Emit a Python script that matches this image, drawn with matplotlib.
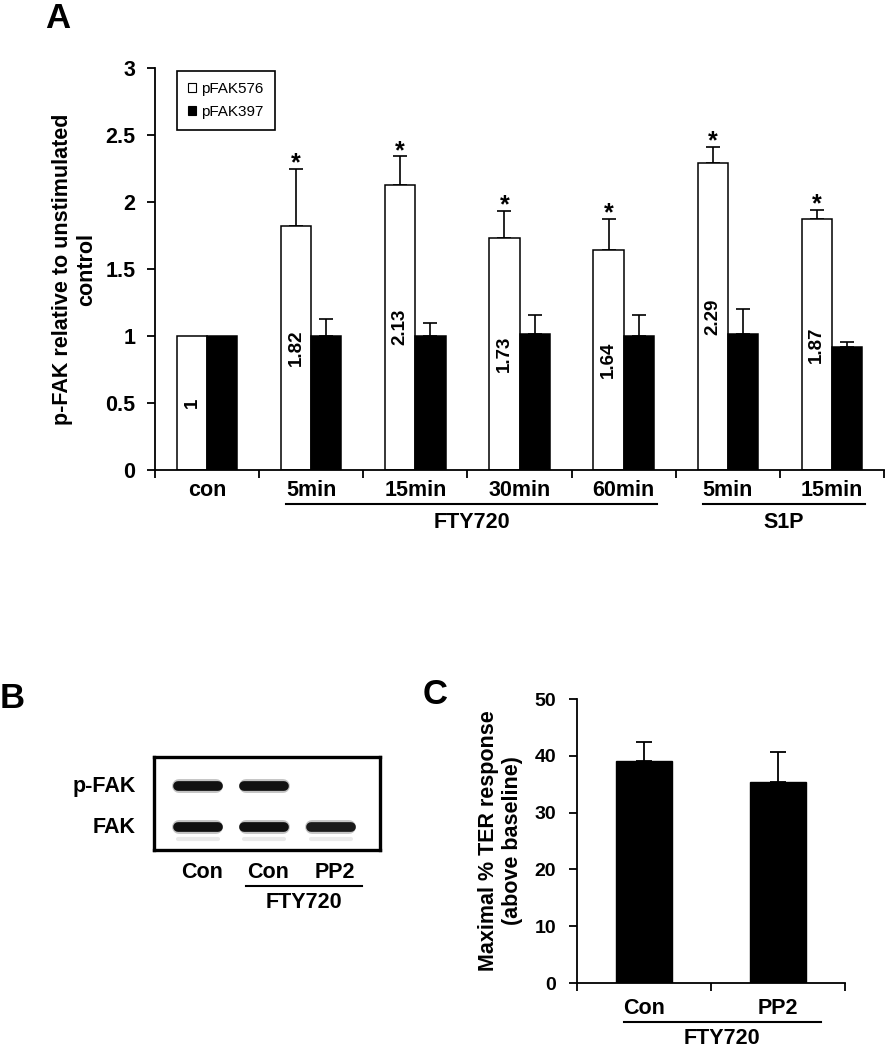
# p-FAK figure: panel A bars, panel B blot, panel C TER bars
import numpy as np
import matplotlib
matplotlib.use("Agg")
import matplotlib.pyplot as plt
import matplotlib.transforms as mtransforms
from matplotlib.patches import Patch

# ==========================================================
# DATA
# ==========================================================

# panel A
a_categories = ["con", "5min", "15min", "30min", "60min", "5min", "15min"]
a_groups = [("FTY720", 1, 4), ("S1P", 5, 6)]
pfak576 = [1.0, 1.82, 2.13, 1.73, 1.64, 2.29, 1.87]
pfak576_err = [0.0, 0.43, 0.21, 0.20, 0.23, 0.12, 0.07]
pfak397 = [1.0, 1.0, 1.0, 1.015, 1.0, 1.015, 0.92]
pfak397_err = [0.0, 0.13, 0.10, 0.145, 0.16, 0.19, 0.035]
significant = [False, True, True, True, True, True, True]
a_yticks = [0, 0.5, 1, 1.5, 2, 2.5, 3]

# panel B (band intensity per lane)
b_lanes = ["Con", "Con", "PP2"]
b_rows = ["p-FAK", "FAK"]
pfak_band = [1.0, 1.0, 0.0]
fak_band = [1.0, 1.0, 0.95]
b_group = ("FTY720", 1, 2)

# panel C
c_categories = ["Con", "PP2"]
ter_response = [39.0, 35.3]
ter_err = [3.5, 5.4]
c_group = ("FTY720", 0, 1)
c_yticks = [0, 10, 20, 30, 40, 50]

# ==========================================================
# FIGURE
# ==========================================================

plt.rcParams["font.family"] = ["Liberation Sans", "DejaVu Sans"]
plt.rcParams["font.weight"] = "bold"

W, H = 885, 1050
fig = plt.figure(figsize=(W / 100, H / 100), dpi=100)


def rect(x0, y0, x1, y1):
    # pixel box (top-left origin) -> figure fraction rect
    return [x0 / W, 1 - y1 / H, (x1 - x0) / W, (y1 - y0) / H]


def fy(py):
    return 1 - py / H


def style_axes(ax, lw=1.3):
    ax.spines["top"].set_visible(False)
    ax.spines["right"].set_visible(False)
    ax.spines["left"].set_linewidth(lw)
    ax.spines["bottom"].set_linewidth(lw)


# ==========================================================
# PANEL A
# ==========================================================

ax = fig.add_axes(rect(155, 68, 884, 470))
style_axes(ax)

x = np.arange(len(a_categories))
bw = 0.29

ax.bar(x - bw / 2, pfak576, bw, color="white", edgecolor="black",
       linewidth=1.1, zorder=2)
ax.bar(x + bw / 2, pfak397, bw, color="black", edgecolor="black",
       linewidth=1.1, zorder=2)

for i in range(len(x)):
    if pfak576_err[i] > 0:
        ax.errorbar(x[i] - bw / 2, pfak576[i], yerr=[[0], [pfak576_err[i]]],
                    fmt="none", ecolor="black", elinewidth=1.2,
                    capsize=5, capthick=1.2, zorder=1)
    if pfak397_err[i] > 0:
        ax.errorbar(x[i] + bw / 2, pfak397[i], yerr=[[0], [pfak397_err[i]]],
                    fmt="none", ecolor="black", elinewidth=1.2,
                    capsize=5, capthick=1.2, zorder=1)
    if significant[i]:
        ax.annotate("*", (x[i] - bw / 2, pfak576[i] + pfak576_err[i]),
                    xytext=(0, -1), textcoords="offset points",
                    ha="center", va="baseline", fontsize=18)
    # value written inside white bar
    ax.text(x[i] - bw / 2, pfak576[i] / 2, "%g" % pfak576[i],
            rotation=90, ha="center", va="center", fontsize=13.5, zorder=3)

ax.set_xlim(-0.5, len(x) - 0.5)
ax.set_ylim(0, 3)
ax.set_yticks(a_yticks)
ax.set_yticklabels(["%g" % t for t in a_yticks], fontsize=15.5,
                   fontweight="bold")
ax.set_xticks(np.arange(len(x) + 1) - 0.5)
ax.set_xticklabels([])
ax.tick_params(axis="both", direction="out", length=6, width=1.3)
ax.tick_params(axis="y", pad=8)

ax.set_ylabel("p-FAK relative to unstimulated\ncontrol", fontsize=15.5,
              fontweight="bold", labelpad=6)

tr_a = mtransforms.blended_transform_factory(ax.transData, fig.transFigure)
for i, lab in enumerate(a_categories):
    ax.text(x[i], fy(490), lab, transform=tr_a, ha="center", va="center",
            fontsize=15.5)
for name, i0, i1 in a_groups:
    x0, x1 = i0 - 0.24, i1 + 0.32
    ax.plot([x0, x1], [fy(504), fy(504)], color="black", lw=1.5,
            transform=tr_a, clip_on=False)
    ax.text((x0 + x1) / 2, fy(522), name, transform=tr_a, ha="center",
            va="center", fontsize=15.5)

handles = [Patch(facecolor="white", edgecolor="black", linewidth=0.8),
           Patch(facecolor="black", edgecolor="black", linewidth=0.8)]
leg = ax.legend(handles, ["pFAK576", "pFAK397"], loc="upper left",
                bbox_to_anchor=(177 / W, fy(71)),
                bbox_transform=fig.transFigure, borderaxespad=0,
                prop={"size": 11, "weight": "normal"}, fancybox=False,
                framealpha=1, edgecolor="black", handlelength=0.55,
                handleheight=0.55, handletextpad=0.35, labelspacing=0.6,
                borderpad=0.7)
leg.get_frame().set_linewidth(1.2)

fig.text(45 / W, fy(2), "A", fontsize=25, ha="left", va="top")

# ==========================================================
# PANEL B (western blot)
# ==========================================================

axb = fig.add_axes(rect(154, 757, 380, 850))
axb.set_xlim(-0.66, 2.74)
axb.set_ylim(-0.56, 1.71)
axb.set_xticks([])
axb.set_yticks([])
for s in axb.spines.values():
    s.set_linewidth(2.4)

rows_y = [1, 0]
for row_y, band in zip(rows_y, [pfak_band, fak_band]):
    for i, inten in enumerate(band):
        if inten <= 0:
            continue
        axb.plot([i - 0.28, i + 0.28], [row_y, row_y], color="#111111",
                 lw=10, alpha=0.25 * inten, solid_capstyle="round")
        axb.plot([i - 0.3, i + 0.3], [row_y, row_y], color="#111111",
                 lw=7, alpha=inten, solid_capstyle="round")
        if row_y == 0:
            # faint shadow band below FAK
            axb.plot([i - 0.3, i + 0.3], [row_y - 0.3, row_y - 0.3],
                     color="#999999", lw=3, alpha=0.2 * inten,
                     solid_capstyle="round")

for row_y, lab in zip(rows_y, b_rows):
    axb.text(-0.93, row_y, lab, ha="right", va="center", fontsize=15.5,
             clip_on=False)

tr_b = mtransforms.blended_transform_factory(axb.transData, fig.transFigure)
for i, lab in enumerate(b_lanes):
    axb.text(i + 0.06, fy(872), lab, transform=tr_b, ha="center",
             va="center", fontsize=15.5)
name, i0, i1 = b_group
bx0, bx1 = i0 - 0.27, i1 + 0.47
axb.plot([bx0, bx1], [fy(886), fy(886)], color="black", lw=1.5,
         transform=tr_b, clip_on=False)
axb.text((bx0 + bx1) / 2, fy(903), name, transform=tr_b, ha="center",
         va="center", fontsize=15.5)

fig.text(0 / W, fy(699), "B", fontsize=25, ha="left", va="center")

# ==========================================================
# PANEL C
# ==========================================================

axc = fig.add_axes(rect(577, 699, 845, 983))
style_axes(axc)

xc = np.arange(len(c_categories))
axc.bar(xc, ter_response, 0.42, color="black", edgecolor="black", zorder=2)
axc.errorbar(xc, ter_response, yerr=[np.zeros(len(xc)), ter_err],
             fmt="none", ecolor="black", elinewidth=1.3, capsize=6,
             capthick=1.3, zorder=1)

axc.set_xlim(-0.5, len(xc) - 0.5)
axc.set_ylim(0, 50)
axc.set_yticks(c_yticks)
axc.set_yticklabels([str(t) for t in c_yticks], fontsize=14,
                    fontweight="bold")
axc.set_xticks(np.arange(len(xc) + 1) - 0.5)
axc.set_xticklabels([])
axc.tick_params(axis="both", direction="out", length=6, width=1.3)
axc.tick_params(axis="y", pad=9)
axc.set_ylabel("Maximal % TER response\n(above baseline)", fontsize=15.5,
               fontweight="bold", labelpad=8)

tr_c = mtransforms.blended_transform_factory(axc.transData, fig.transFigure)
for i, lab in enumerate(c_categories):
    axc.text(xc[i], fy(1008), lab, transform=tr_c, ha="center",
             va="center", fontsize=15.5)
name, i0, i1 = c_group
cx0, cx1 = i0 - 0.15, i1 + 0.32
axc.plot([cx0, cx1], [fy(1022), fy(1022)], color="black", lw=1.5,
         transform=tr_c, clip_on=False)
axc.text((cx0 + cx1) / 2, fy(1039), name, transform=tr_c, ha="center",
         va="center", fontsize=15.5)

fig.text(423 / W, fy(695), "C", fontsize=25, ha="left", va="center")

fig.savefig("out.png", dpi=100)
